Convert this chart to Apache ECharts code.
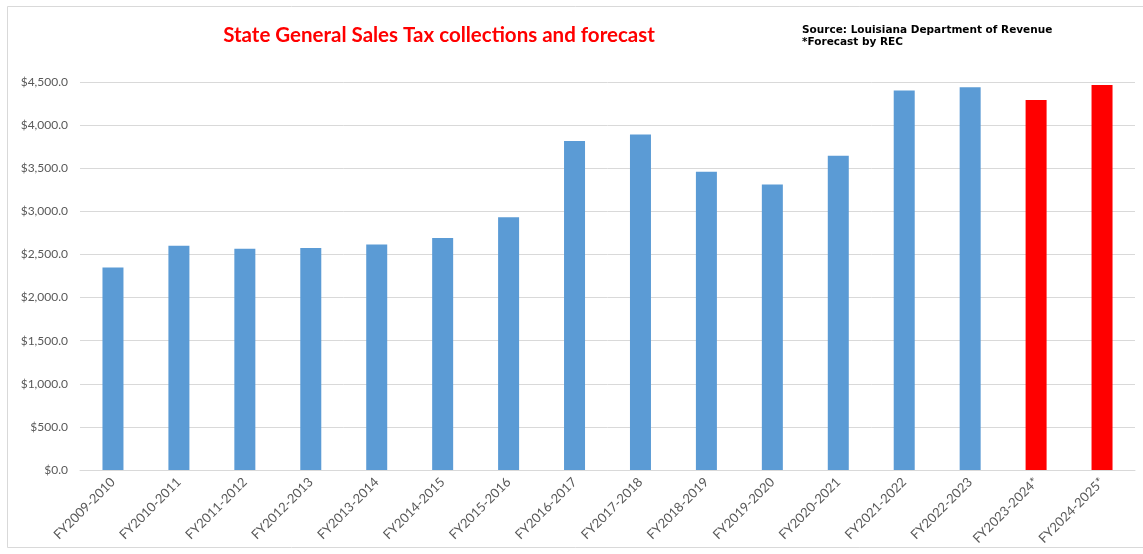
<!DOCTYPE html>
<html>
<head>
<meta charset="utf-8">
<title>State General Sales Tax collections and forecast</title>
<script src="https://cdn.jsdelivr.net/npm/echarts@6/dist/echarts.min.js"></script>
<style>
  html, body { margin: 0; padding: 0; background: #ffffff; }
  #chart { width: 1143px; height: 554px; }
</style>
</head>
<body>
<div id="chart"></div>
<script>
// Fiscal years; the last two are REC forecasts
const fiscalYears = [
  'FY2009-2010', 'FY2010-2011', 'FY2011-2012', 'FY2012-2013',
  'FY2013-2014', 'FY2014-2015', 'FY2015-2016', 'FY2016-2017',
  'FY2017-2018', 'FY2018-2019', 'FY2019-2020', 'FY2020-2021',
  'FY2021-2022', 'FY2022-2023', 'FY2023-2024*', 'FY2024-2025*'
];

// Collections, $ millions
const collections = [
  2350, 2600, 2565, 2575, 2615, 2690, 2930, 3815,
  3890, 3460, 3310, 3645, 4400, 4440, 4290, 4465
];

// true where the value is a forecast
const isForecast = [
  false, false, false, false, false, false, false, false,
  false, false, false, false, false, false, true, true
];

const titleText = 'State General Sales Tax collections and forecast';
const sourceLines = ['Source: Louisiana Department of Revenue', '*Forecast by REC'];

const actualColor = '#5B9BD5';
const forecastColor = '#FF0000';

const chart = echarts.init(document.getElementById('chart'), null, { renderer: 'canvas' });

const money = v => '$' + v.toLocaleString('en-US', { minimumFractionDigits: 1, maximumFractionDigits: 1 });

chart.setOption({
  animation: false,
  backgroundColor: '#ffffff',
  title: {
    text: titleText,
    left: 434,
    top: 20,
    textAlign: 'center',
    textStyle: {
      color: '#FF0000',
      fontFamily: 'Lato',
      fontWeight: 'bold',
      fontSize: 20.5
    }
  },
  graphic: [
    {
      type: 'rect',
      shape: { x: 7.5, y: 6.5, width: 1150, height: 541 },
      style: { fill: 'none', stroke: '#d9d9d9', lineWidth: 1 },
      silent: true
    },
    {
      type: 'text',
      left: 802,
      top: 24,
      style: {
        text: sourceLines.join('\n'),
        fill: '#000000',
        font: 'bold 10.5px "DejaVu Sans"',
        lineHeight: 12
      }
    }
  ],
  grid: {
    left: 80,
    right: 8,
    top: 82,
    bottom: 84
  },
  xAxis: {
    type: 'category',
    data: fiscalYears,
    axisLine: { show: true, lineStyle: { color: '#d9d9d9', width: 1 } },
    axisTick: { show: false },
    axisLabel: {
      rotate: 45,
      interval: 0,
      margin: 10,
      color: '#595959',
      fontFamily: 'Lato',
      fontSize: 13
    }
  },
  yAxis: {
    type: 'value',
    min: 0,
    max: 4500,
    interval: 500,
    axisLine: { show: false },
    axisTick: { show: false },
    splitLine: { lineStyle: { color: '#d9d9d9', width: 1 } },
    axisLabel: {
      formatter: money,
      margin: 12,
      color: '#595959',
      fontFamily: 'Lato',
      fontSize: 12
    }
  },
  series: [
    {
      type: 'bar',
      barWidth: 21,
      data: collections.map((v, i) => ({
        value: v,
        itemStyle: { color: isForecast[i] ? forecastColor : actualColor }
      }))
    }
  ]
});
</script>
</body>
</html>
